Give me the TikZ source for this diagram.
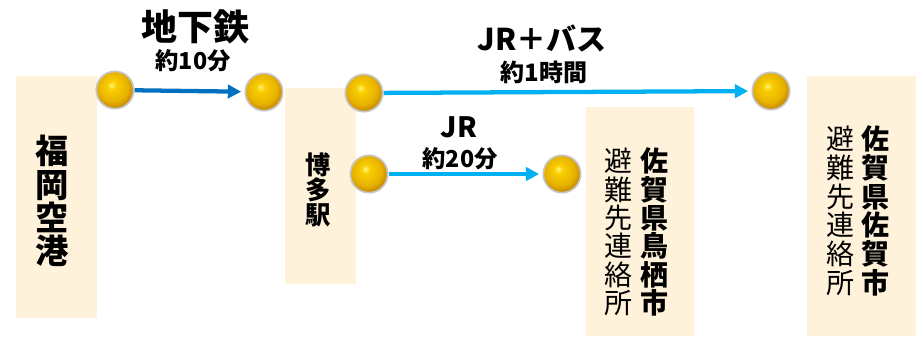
\documentclass[tikz,border=0pt]{standalone}
\usepackage{fontspec}
\newfontfamily\jp{Noto Sans CJK JP}
\usetikzlibrary{arrows.meta}
\definecolor{cream}{RGB}{255,242,218}
\definecolor{metro}{RGB}{0,112,192}
\definecolor{jrblue}{RGB}{0,176,240}
\definecolor{goldhi}{RGB}{255,246,120}
\definecolor{goldmid}{RGB}{250,205,0}
\definecolor{golddk}{RGB}{185,115,0}
\pgfdeclareradialshading{goldball}{\pgfpoint{-5bp}{7bp}}{color(0bp)=(goldhi); color(6bp)=(goldmid); color(20bp)=(goldmid!70!golddk); color(31bp)=(golddk); color(50bp)=(golddk)}
\begin{document}
\begin{tikzpicture}[x=0.75pt,y=-0.75pt,
  stop/.style={circle,inner sep=0pt,minimum size=28pt,shading=goldball,draw=gray!45,line width=1.3pt},
  route/.style={line width=3.2pt,-{Triangle[length=10pt,width=10pt]},shorten >=2.5pt},
  line/.style={font=\jp\bfseries\fontsize{#1}{#1}\selectfont,inner sep=0pt},
  tate/.style={font=\jp\fontsize{#1}{#1}\selectfont,align=center,inner sep=0pt}]
\useasboundingbox (0,0) rectangle (916,336);
% places
\fill[cream] (16,76) rectangle (97,318);
\fill[cream] (285,88) rectangle (356,284);
\fill[cream] (586,107) rectangle (694,336);
\fill[cream] (807,76) rectangle (916,336);
\node[tate=25,font=\jp\bfseries\fontsize{25}{25}\selectfont] (fuk) at (52,201) {福\\岡\\空\\港};
\node[tate=19,font=\jp\bfseries\fontsize{19}{19}\selectfont] (hak) at (318,190) {博\\多\\駅};
\node[tate=21,font=\jp\bfseries\fontsize{21}{21.2}\selectfont] (tos) at (654,232) {佐\\賀\\県\\鳥\\栖\\市};
\node[tate=21,font=\jp\fontsize{21}{21.2}\selectfont] (tosn) at (618,232) {避\\難\\先\\連\\絡\\所};
\node[tate=21,font=\jp\bfseries\fontsize{21}{21.5}\selectfont] (sag) at (875,211) {佐\\賀\\県\\佐\\賀\\市};
\node[tate=21,font=\jp\fontsize{21}{21.5}\selectfont] (sagn) at (840,211) {避\\難\\先\\連\\絡\\所};
% stops
\foreach \n/\x/\y in {a/115/90,b/264/92,c/364/93,d/369/174,e/562/174,f/771/91}
  \node[stop] (\n) at (\x,\y) {};
% routes
\draw[route,metro] (a) -- (b);
\draw[route,jrblue] (c) -- (f);
\draw[route,jrblue] (d) -- (e);
\node[line=27] (sub) at (195,27) {地下鉄};
\node[line=17.5] (subt) at (193,61) {約10分};
\node[line=22.5] (bus) at (542,38) {JR＋バス};
\node[line=18] (bust) at (544,72) {約1時間};
\node[line=21] (jr) at (459,127) {JR};
\node[line=17.5] (jrt) at (460,159) {約20分};
\end{tikzpicture}
\end{document}
